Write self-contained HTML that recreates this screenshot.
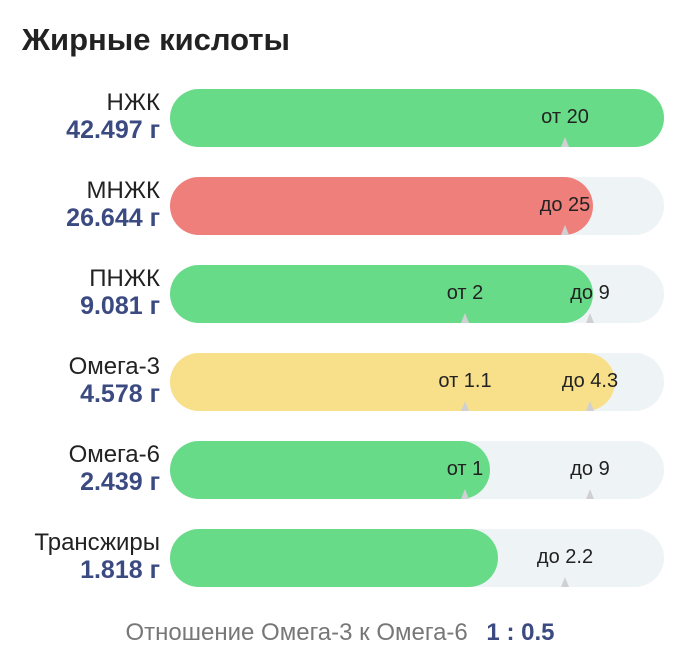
<!DOCTYPE html>
<html><head><meta charset="utf-8"><style>
body{margin:0;width:680px;height:672px;background:#fff;font-family:"Liberation Sans","Noto Sans CJK SC",sans-serif;position:relative;overflow:hidden}
.t{position:absolute;left:22px;top:22px;font-size:31px;font-weight:bold;color:#222}
.row{position:absolute;left:0;width:680px;height:58px}
.nm{position:absolute;right:520px;top:0px;font-size:24px;color:#222;text-align:right;white-space:nowrap}
.vl{position:absolute;right:520px;top:27px;font-size:25px;font-weight:bold;color:#3b4a80;white-space:nowrap}
.bg{position:absolute;left:170px;top:0;width:494px;height:58px;border-radius:29px;background:#eef4f6}
.fl{position:absolute;left:170px;top:0;height:58px;border-radius:29px}
.mk{position:absolute;top:17px;font-size:20px;color:#222;transform:translateX(-50%);white-space:nowrap}
.tr{position:absolute;bottom:0;width:0;height:0;border-left:4px solid transparent;border-right:4px solid transparent;border-bottom:10px solid #d0d0d4;transform:translateX(-50%)}
.ft{position:absolute;left:0;width:680px;top:619px;text-align:center;font-size:24px;color:#777}
.ft b{color:#3b4a80;margin-left:12px}
</style></head><body>
<div class="t">Жирные кислоты</div>

<div class="row" style="top:89px"><div class="nm">НЖК</div><div class="vl">42.497 г</div><div class="bg"></div><div class="fl" style="width:494px;background:#68db88"></div><div class="mk" style="left:565px">от 20</div><div class="tr" style="left:565px"></div></div>

<div class="row" style="top:177px"><div class="nm">МНЖК</div><div class="vl">26.644 г</div><div class="bg"></div><div class="fl" style="width:423px;background:#ef7f7a"></div><div class="mk" style="left:565px">до 25</div><div class="tr" style="left:565px"></div></div>

<div class="row" style="top:265px"><div class="nm">ПНЖК</div><div class="vl">9.081 г</div><div class="bg"></div><div class="fl" style="width:423px;background:#68db88"></div><div class="mk" style="left:465px">от 2</div><div class="tr" style="left:465px"></div><div class="mk" style="left:590px">до 9</div><div class="tr" style="left:590px"></div></div>

<div class="row" style="top:353px"><div class="nm">Омега-3</div><div class="vl">4.578 г</div><div class="bg"></div><div class="fl" style="width:445px;background:#f8e08a"></div><div class="mk" style="left:465px">от 1.1</div><div class="tr" style="left:465px"></div><div class="mk" style="left:590px">до 4.3</div><div class="tr" style="left:590px"></div></div>

<div class="row" style="top:441px"><div class="nm">Омега-6</div><div class="vl">2.439 г</div><div class="bg"></div><div class="fl" style="width:320px;background:#68db88"></div><div class="mk" style="left:465px">от 1</div><div class="tr" style="left:465px"></div><div class="mk" style="left:590px">до 9</div><div class="tr" style="left:590px"></div></div>

<div class="row" style="top:529px"><div class="nm">Трансжиры</div><div class="vl">1.818 г</div><div class="bg"></div><div class="fl" style="width:328px;background:#68db88"></div><div class="mk" style="left:565px">до 2.2</div><div class="tr" style="left:565px"></div></div>

<div class="ft">Отношение Омега-3 к Омега-6 <b>1 : 0.5</b></div>
</body></html>
